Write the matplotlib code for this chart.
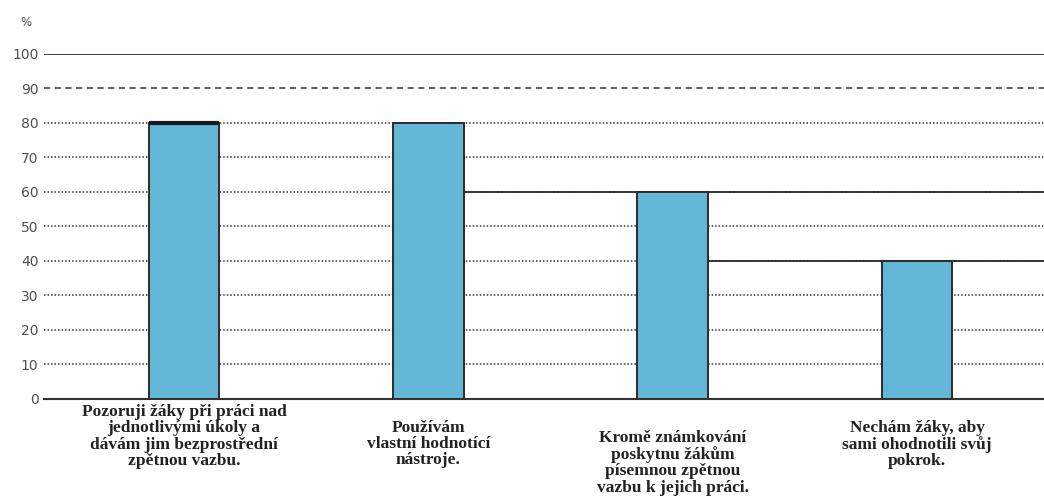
import numpy as np
import matplotlib
matplotlib.use('Agg')
import matplotlib.pyplot as plt

# share of teachers (%) for each feedback practice
categories = [
    'Pozoruji žáky při práci nad\njednotlivými úkoly a\ndávám jim bezprostřední\nzpětnou vazbu.',
    'Používám\nvlastní hodnotící\nnástroje.',
    'Kromě známkování\nposkytnu žákům\npísemnou zpětnou\nvazbu k jejich práci.',
    'Nechám žáky, aby\nsami ohodnotili svůj\npokrok.',
]
values = [80, 80, 60, 40]
yticks = [0, 10, 20, 30, 40, 50, 60, 70, 80, 90, 100]

# vertical offset (in axes fraction) of each label's first line
label_top = [-0.015, -0.06, -0.09, -0.06]

bar_color = '#63b6d6'
edge_color = '#2b2b2b'

fig = plt.figure(figsize=(10.44, 5.03), dpi=100)
ax = fig.add_axes([0.0421, 0.2068, 0.958, 0.686])

x = np.arange(len(categories))
width = 0.29
ax.set_xlim(-0.573, 3.52)
ax.set_ylim(0, 100)

# grid: dotted for the inner levels, dashed at 90, solid at 100
for y in yticks[1:]:
    if y == 100:
        ax.axhline(y, color='#333333', lw=1.3, zorder=1)
    elif y == 90:
        ax.axhline(y, color='#333333', lw=1.1, ls=(0, (4, 3)), zorder=1)
    else:
        ax.axhline(y, color='#333333', lw=1.1, ls=(0, (1, 1.3)), zorder=1)

ax.bar(x, values, width=width, color=bar_color, edgecolor=edge_color,
       linewidth=1.4, zorder=3)

# heavier cap on the first bar
ax.hlines(values[0], x[0] - width / 2, x[0] + width / 2, color='#1a1a1a',
          lw=3, zorder=4)
# solid levels continuing right of the previous bar
xmax = ax.get_xlim()[1]
for i in (2, 3):
    ax.hlines(values[i], x[i - 1] + width / 2, xmax, color='#2b2b2b',
              lw=1.3, zorder=2)

for s in ['top', 'right', 'left']:
    ax.spines[s].set_visible(False)
ax.spines['bottom'].set_color('#333333')
ax.spines['bottom'].set_linewidth(1.5)

ax.set_yticks(yticks)
ax.set_yticklabels([str(t) for t in yticks], fontsize=10, color='#505050')
ax.tick_params(axis='y', length=0, pad=4)
ax.set_xticks([])

ax.text(-0.012, 1.09, '%', transform=ax.transAxes, ha='right', va='center',
        fontsize=8.5, color='#505050')

for xi, lab, top in zip(x, categories, label_top):
    ax.text(xi, top, lab, transform=ax.get_xaxis_transform(), ha='center',
            va='top', fontsize=12.5, fontweight='bold', family='Liberation Serif',
            color='#222222', linespacing=1.02)

fig.savefig('out.png', dpi=100)
